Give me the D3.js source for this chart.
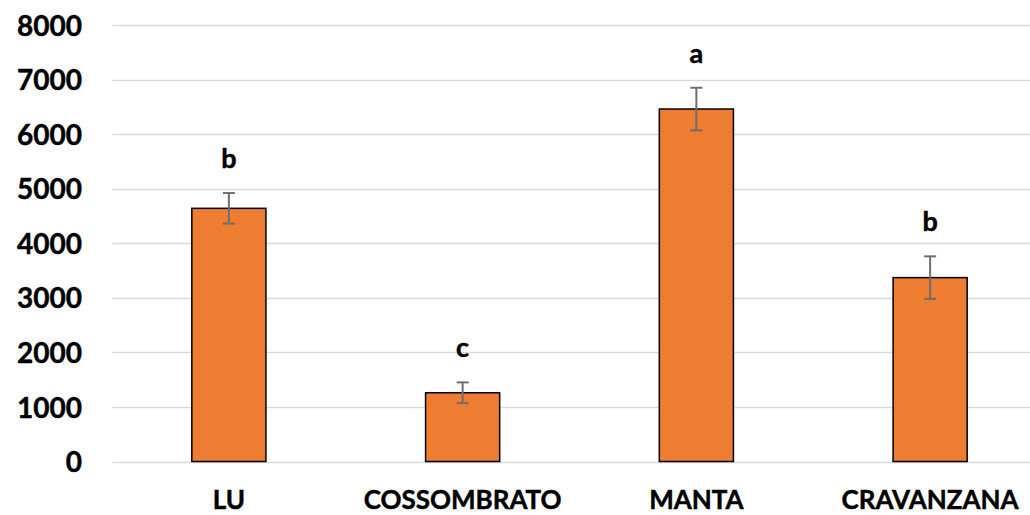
<!DOCTYPE html>
<html><head><meta charset="utf-8">
<script src="https://cdn.jsdelivr.net/npm/d3@7"></script>
<style>body{margin:0;background:#fff}svg{display:block}text{font-family:Lato,"Open Sans",sans-serif;font-weight:bold;fill:#000;stroke:#000;stroke-width:0.45px}</style>
</head><body><svg id="c" width="1030" height="515"></svg>
<script>
const categories = ["LU", "COSSOMBRATO", "MANTA", "CRAVANZANA"];
const values = [4640, 1260, 6460, 3370];
const errors = [280, 190, 390, 390];
const letters = ["b", "c", "a", "b"];
const yTicks = [0, 1000, 2000, 3000, 4000, 5000, 6000, 7000, 8000];

const svg = d3.select("#c");
const x = d3.scaleBand().domain(categories).range([112, 1047]).paddingInner(0.683).paddingOuter(0.3415);
const y = d3.scaleLinear().domain([0, 8000]).range([461.5, 25]);

// gridlines
svg.append("g").selectAll("line").data(yTicks).join("line")
  .attr("x1", 112.5).attr("x2", 1030)
  .attr("y1", d => Math.round(y(d)) + 0.5).attr("y2", d => Math.round(y(d)) + 0.5)
  .attr("stroke", "#d9d9d9").attr("stroke-width", 1.5);

// y labels
const yAxis = d3.axisLeft(y).tickValues(yTicks).tickSize(0).tickPadding(0).tickFormat(d3.format("d"));
const ga = svg.append("g").attr("transform", "translate(82,0)").call(yAxis);
ga.select(".domain").remove();
ga.selectAll("text").attr("font-size", 28).attr("font-family", "Lato").attr("font-weight", "bold").attr("fill", "#000").attr("dy", "0.36em");

// bars
svg.append("g").selectAll("rect").data(categories).join("rect")
  .attr("x", d => x(d)).attr("width", x.bandwidth())
  .attr("y", (d, i) => y(values[i])).attr("height", (d, i) => y(0) - y(values[i]))
  .attr("fill", "#ed7d31").attr("stroke", "#000").attr("stroke-width", 1.5);

// error bars
const eg = svg.append("g").attr("stroke", "#6e6e6e").attr("stroke-width", 2);
categories.forEach((c, i) => {
  const cx = x(c) + x.bandwidth() / 2;
  const t = y(values[i] + errors[i]), b = y(values[i] - errors[i]);
  eg.append("line").attr("x1", cx).attr("x2", cx).attr("y1", t).attr("y2", b);
  eg.append("line").attr("x1", cx - 6).attr("x2", cx + 6).attr("y1", t).attr("y2", t);
  eg.append("line").attr("x1", cx - 6).attr("x2", cx + 6).attr("y1", b).attr("y2", b);
});

// significance letters
svg.append("g").selectAll("text").data(categories).join("text")
  .attr("x", d => x(d) + x.bandwidth() / 2)
  .attr("y", (d, i) => y(values[i] + errors[i]) - 25)
  .attr("text-anchor", "middle").attr("font-size", 27)
  .text((d, i) => letters[i]);

// category labels
const xAxis = d3.axisBottom(x).tickSize(0).tickPadding(0);
const gx = svg.append("g").call(xAxis);
gx.select(".domain").remove();
gx.selectAll("text").attr("y", 509).attr("dy", 0).attr("font-size", 26)
  .attr("font-family", "Lato").attr("font-weight", "bold").attr("fill", "#000");
</script></body></html>
